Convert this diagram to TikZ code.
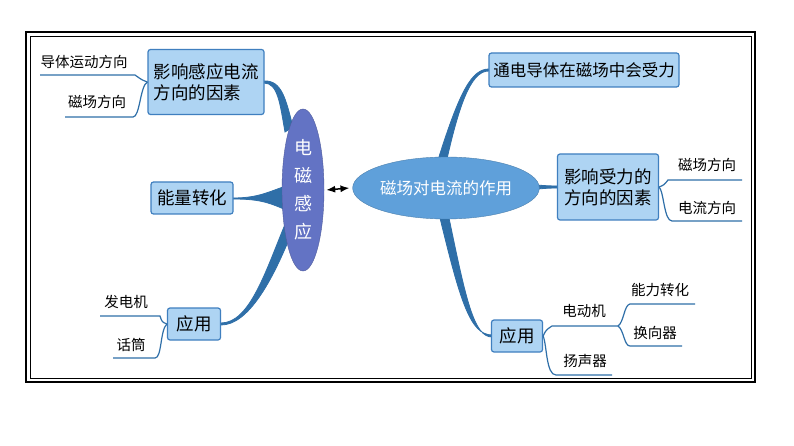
\documentclass[tikz,border=0pt]{standalone}
\usepackage{fontspec}
\setmainfont{Noto Sans CJK SC}
\usetikzlibrary{arrows.meta,shapes.geometric}
\definecolor{bfill}{HTML}{AED4F3}
\definecolor{bdraw}{HTML}{3F7FBF}
\definecolor{branch}{HTML}{2F6FA8}
\definecolor{ell1}{HTML}{6373C4}
\definecolor{ell2}{HTML}{5FA0DA}
\tikzset{
 box/.style={draw=bdraw,fill=bfill,rounded corners=2.5,line width=1.2pt,inner sep=2pt,font=\fontsize{17.5}{21}\selectfont,align=left},
 lab/.style={font=\fontsize{14.5}{16}\selectfont,inner sep=1pt},
 thin/.style={draw=branch,line width=1.2pt},
 br/.style={fill=branch,draw=branch,line width=0.8pt}
}
\begin{document}
\begin{tikzpicture}[x=1pt,y=-1pt]
\useasboundingbox (0,0) rectangle (794,446);
\fill[white] (0,0) rectangle (794,446);
\draw[line width=2.2pt] (26,32) rectangle (755,382);
\draw[line width=0.6pt] (30,36) rectangle (751,378);
% branches
\path[br] (264,81) .. controls (282,80) and (286,100) .. (293,127) -- (285,132) .. controls (280,104) and (278,83) .. (264,83) -- cycle;
\path[br] (233,198) .. controls (258,198) and (268,192) .. (286,186) -- (286,210) .. controls (268,202) and (258,199) .. (233,199) -- cycle;
\path[br] (221,323) .. controls (250,323) and (266,270) .. (286,222) -- (292,232) .. controls (272,282) and (248,325) .. (221,325) -- cycle;
\path[br] (489,69) .. controls (472,69) and (460,90) .. (438,160) -- (447,159) .. controls (462,92) and (474,71) .. (489,71) -- cycle;
\path[br] (558,186) .. controls (540,186) and (525,184) .. (512,180) -- (512,196) .. controls (525,190) and (540,188) .. (558,188) -- cycle;
\path[br] (492,335) .. controls (470,335) and (460,300) .. (440,218) -- (449,218) .. controls (466,300) and (474,337) .. (492,337) -- cycle;
% ellipses
\node[draw=ell1!80!black,fill=ell1,ellipse,minimum width=42,minimum height=162,inner sep=0] (em) at (303,190) {};
\node[text=white,font=\fontsize{18}{28}\selectfont,align=center] (emt) at (303,190) {电\\磁\\感\\应};
\node[draw=ell2!80!black,fill=ell2,ellipse,minimum width=150,minimum height=62,inner sep=0,text=white,font=\fontsize{16.5}{18}\selectfont] (cd) at (446,188) {磁场对电流的作用};
\draw[{Latex[length=9pt,width=7pt]}-{Latex[length=9pt,width=7pt]},line width=1.5pt] ([xshift=2pt]em.east) -- ([xshift=-3pt]cd.west);
% boxes
\node[box,minimum width=116,minimum height=65] (b1) at (206,82) {影响感应电流\\方向的因素};
\node[box,minimum width=82,minimum height=32] (b2) at (192,198) {能量转化};
\node[box,minimum width=53,minimum height=32] (b3) at (194,324) {应用};
\node[box,minimum width=190,minimum height=34,font=\fontsize{16.5}{18}\selectfont] (b4) at (584,70) {通电导体在磁场中会受力};
\node[box,minimum width=101,minimum height=66] (b5) at (608,187) {影响受力的\\方向的因素};
\node[box,minimum width=51,minimum height=32] (b6) at (517,336) {应用};
% leaf labels
\node[lab] (l1) at (84,62) {导体运动方向};
\node[lab] (l2) at (97,102) {磁场方向};
\node[lab] (l3) at (126,302) {发电机};
\node[lab] (l4) at (131,345) {话筒};
\node[lab] (r1) at (707,165) {磁场方向};
\node[lab] (r2) at (707,208) {电流方向};
\node[lab] (r3) at (584,311) {电动机};
\node[lab] (r4) at (585,361) {扬声器};
\node[lab] (r5) at (660,290) {能力转化};
\node[lab] (r6) at (655,333) {换向器};
% thin connectors
\draw[thin] (b1.west) .. controls (142,80) .. (135,75) -- (40,75);
\draw[thin] (b1.west) .. controls (140,86) and (140,117) .. (133,117) -- (65,117);
\draw[thin] (b3.west) .. controls (162,322) .. (160,316) -- (100,316);
\draw[thin] (b3.west) .. controls (160,330) and (162,358) .. (155,358) -- (113,358);
\draw[thin] (b5.east) .. controls (664,185) .. (668,180) -- (742,180);
\draw[thin] (b5.east) .. controls (664,192) and (664,221) .. (672,221) -- (742,221);
\draw[thin] (b6.east) .. controls (546,330) .. (552,326) -- (618,326);
\draw[thin] (b6.east) .. controls (547,345) and (546,375) .. (556,375) -- (612,375);
\draw[thin] (618,326) .. controls (624,322) and (624,305) .. (630,304) -- (695,304);
\draw[thin] (618,326) .. controls (624,330) and (624,346) .. (630,346) -- (682,346);
\end{tikzpicture}
\end{document}
